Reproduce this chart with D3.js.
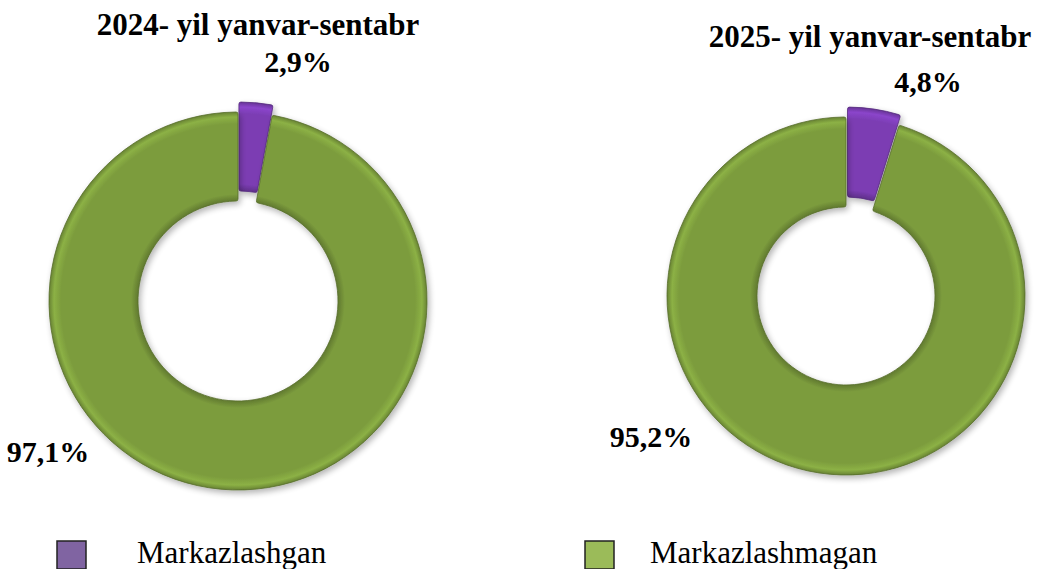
<!DOCTYPE html>
<html>
<head>
<meta charset="utf-8">
<script src="https://cdn.jsdelivr.net/npm/d3@7"></script>
<style>
  body { margin: 0; background: #fff; overflow: hidden; }
  text { font-family: 'Liberation Serif', 'Times New Roman', serif; }
</style>
</head>
<body>
<div id="chart"></div>
<script>
// Data
const categories = ['Markazlashgan', 'Markazlashmagan'];
const values2024 = [2.9, 97.1];
const values2025 = [4.8, 95.2];
const titles = ['2024- yil yanvar-sentabr', '2025- yil yanvar-sentabr'];
const labels2024 = ['2,9%', '97,1%'];
const labels2025 = ['4,8%', '95,2%'];

const width = 1039;
const height = 569;
const sliceColors = ['#7b3db3', '#7c9c3d'];
const legendColors = ['#8064a2', '#9bbb59'];

const svg = d3
  .select('#chart')
  .append('svg')
  .attr('width', width)
  .attr('height', height);

const defs = svg.append('defs');
const shadow = defs.append('filter').attr('id', 'shadow')
  .attr('x', '-20%').attr('y', '-20%').attr('width', '140%').attr('height', '140%');
shadow.append('feGaussianBlur').attr('in', 'SourceAlpha').attr('stdDeviation', 3);
shadow.append('feOffset').attr('dx', 2).attr('dy', 3).attr('result', 'blur');
shadow.append('feComponentTransfer').append('feFuncA').attr('type', 'linear').attr('slope', 0.3);
const merge = shadow.append('feMerge');
merge.append('feMergeNode');
merge.append('feMergeNode').attr('in', 'SourceGraphic');

const pie = d3.pie().sort(null).value((d) => d);

// one donut per year
const donuts = [
  { id: 'a', values: values2024, labels: labels2024, title: titles[0], cx: 238, cy: 301, r: 189, ir: 100,
    titleX: 258, titleY: 35,
    labelPos: [[298, 72], [48, 462]] },
  { id: 'b', values: values2025, labels: labels2025, title: titles[1], cx: 846, cy: 296, r: 179, ir: 89,
    titleX: 870, titleY: 47,
    labelPos: [[928, 92], [651, 447]] },
];

donuts.forEach((dn) => {
  // bevel-like gradient for each colour
  sliceColors.forEach((c, i) => {
    const base = d3.color(c);
    const grad = defs.append('radialGradient')
      .attr('id', 'g' + dn.id + i)
      .attr('gradientUnits', 'userSpaceOnUse')
      .attr('cx', 0).attr('cy', 0).attr('r', dn.r);
    const stops = [
      [dn.ir / dn.r, base.darker(0.7)],
      [(dn.ir + 7) / dn.r, base],
      [(dn.r - 12) / dn.r, base],
      [(dn.r - 5) / dn.r, base.brighter(0.35)],
      [1, base.darker(0.5)],
    ];
    stops.forEach((s) => {
      grad.append('stop').attr('offset', s[0]).attr('stop-color', s[1]);
    });
  });

  const g = svg.append('g')
    .attr('transform', 'translate(' + dn.cx + ',' + dn.cy + ')');

  const arc = d3.arc().innerRadius(dn.ir).outerRadius(dn.r).cornerRadius(2);

  const slices = g.selectAll('.slice')
    .data(pie(dn.values))
    .enter()
    .append('g')
    .attr('class', 'slice')
    .attr('transform', (d, i) => {
      // explode the small slice
      if (i !== 0) return null;
      const mid = (d.startAngle + d.endAngle) / 2;
      return 'translate(' + (Math.sin(mid) * 10) + ',' + (-Math.cos(mid) * 10) + ')';
    });

  slices.append('path')
    .attr('d', arc)
    .attr('fill', (d, i) => 'url(#g' + dn.id + i + ')')
    .attr('stroke', (d, i) => d3.color(sliceColors[i]).darker(1))
    .attr('stroke-width', 0.8)
    .attr('filter', 'url(#shadow)');

  // title
  svg.append('text')
    .attr('x', dn.titleX)
    .attr('y', dn.titleY)
    .attr('text-anchor', 'middle')
    .style('font-size', '31px')
    .style('font-weight', 'bold')
    .text(dn.title);

  // value labels
  dn.labels.forEach((lab, i) => {
    svg.append('text')
      .attr('x', dn.labelPos[i][0])
      .attr('y', dn.labelPos[i][1])
      .attr('text-anchor', 'middle')
      .style('font-size', '30px')
      .style('font-weight', 'bold')
      .text(lab);
  });
});

// Legend
const legendX = [57, 585];
const legend = svg.selectAll('.legend')
  .data(categories)
  .enter()
  .append('g')
  .attr('class', 'legend')
  .attr('transform', (d, i) => 'translate(' + legendX[i] + ',541)');

legend.append('rect')
  .attr('width', 29)
  .attr('height', 28)
  .attr('fill', (d, i) => legendColors[i])
  .attr('stroke', '#222')
  .attr('stroke-width', 1.5);

legend.append('text')
  .attr('x', (d, i) => (i === 0 ? 80 : 65))
  .attr('y', 22)
  .style('font-size', '31px')
  .text((d) => d);
</script>
</body>
</html>
